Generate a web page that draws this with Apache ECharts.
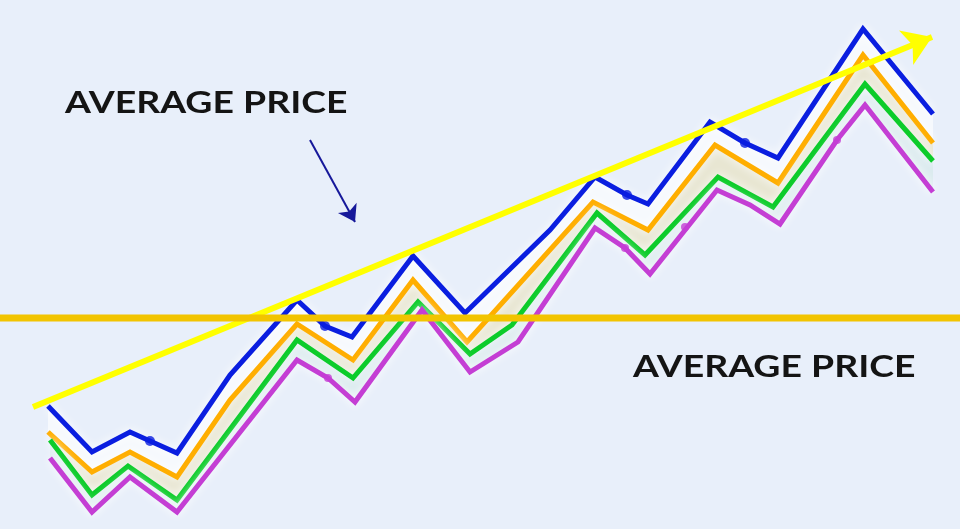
<!DOCTYPE html>
<html><head><meta charset="utf-8">
<script src="https://cdn.jsdelivr.net/npm/echarts@6/dist/echarts.min.js"></script>
<style>html,body{margin:0;padding:0;background:#e8effa}#c{width:960px;height:529px}</style>
</head><body><div id="c"></div>
<script>
// x positions (time) and price values
const blueX = [48,92,130,150,177,230,297,325,352,413,465,550,595,627,648,710,745,778,863,933];
const blueY = [123,77,97,88,76,154,229,203,192,273,216,299,352,334,325,407,386,371,500,415];
const orangeX = [48,92,130,177,230,297,353,413,467,593,648,715,778,863,933];
const orangeY = [97,57,77,52,129,205,169,249,187,327,299,384,346,474,386];
const greenX = [50,92,128,177,297,353,418,470,512,597,645,718,773,865,933];
const greenY = [89,34,63,29,189,151,227,175,204,316,274,352,322,445,368];
const magentaX = [50,92,130,177,297,328,355,422,470,518,595,625,650,717,750,780,837,865,933];
const magentaY = [71,17,52,17,169,151,127,219,157,187,301,281,255,339,324,305,389,424,337];
const blueMarkX = [150,325,627,745];
const blueMarkY = [88,203,334,386];
const magentaMarkX = [328,625,685,837];
const magentaMarkY = [151,281,302,389];
const trendStart = [33,122], trendEnd = [932,492];
const averageLevel = 211;
const pointerStart = [310,389], pointerEnd = [355,307];
const labelText = 'AVERAGE PRICE';

const zip = (xs, ys) => xs.map((x, i) => [x, ys[i]]);
const blue = zip(blueX, blueY), orange = zip(orangeX, orangeY), green = zip(greenX, greenY), magenta = zip(magentaX, magentaY);

function band(top, bottom, fill) {
  return {
    type: 'custom', coordinateSystem: 'cartesian2d', silent: true, z: 1,
    data: [[0, 0]],
    renderItem: (params, api) => {
      const pts = top.map(p => api.coord(p)).concat(bottom.slice().reverse().map(p => api.coord(p)));
      return { type: 'polygon', shape: { points: pts }, style: { fill: fill } };
    }
  };
}
function line(data, color) {
  return {
    type: 'line', data: data, showSymbol: false, z: 3, silent: true,
    lineStyle: { color: color, width: 5, shadowColor: 'rgba(255,255,255,1)', shadowBlur: 10, join: 'miter' }
  };
}

const chart = echarts.init(document.getElementById('c'));
chart.setOption({
  backgroundColor: '#e8effa',
  animation: false,
  grid: { left: 0, right: 0, top: 0, bottom: 0 },
  xAxis: { type: 'value', min: 0, max: 960, show: false },
  yAxis: { type: 'value', min: 0, max: 529, show: false },
  series: [
    band(blue, orange, 'rgba(255,255,255,0.6)'),
    band(orange, green, 'rgba(232,222,170,0.5)'),
    band(green, magenta, 'rgba(205,232,228,0.5)'),
    line(blue, '#0a1ee0'),
    line(orange, '#ffae00'),
    line(green, '#0ccc2a'),
    line(magenta, '#c43ed4'),
    { type: 'scatter', z: 4, silent: true, symbolSize: 10, itemStyle: { color: '#0a1ee0' }, data: zip(blueMarkX, blueMarkY) },
    { type: 'scatter', z: 4, silent: true, symbolSize: 8, itemStyle: { color: '#c43ed4' }, data: zip(magentaMarkX, magentaMarkY) },
    {
      type: 'lines', coordinateSystem: 'cartesian2d', z: 5, silent: true,
      symbol: ['none', 'arrow'], symbolSize: [28, 28],
      lineStyle: { color: '#ffff00', width: 6, opacity: 1 },
      data: [{ coords: [trendStart, trendEnd] }]
    },
    {
      type: 'lines', coordinateSystem: 'cartesian2d', z: 5, silent: true,
      symbol: ['none', 'arrow'], symbolSize: [12, 16],
      lineStyle: { color: '#16189a', width: 2, opacity: 1 },
      data: [{ coords: [pointerStart, pointerEnd] }]
    },
    {
      type: 'line', z: 6, silent: true, showSymbol: false,
      lineStyle: { color: '#f2c400', width: 7 },
      data: [[0, averageLevel], [960, averageLevel]]
    }
  ],
  graphic: [
    { type: 'text', x: 65, y: 103, scaleX: 1.245, style: { text: labelText, font: 'bold 30px Lato', fill: '#141414', verticalAlign: 'middle' } },
    { type: 'text', x: 633, y: 367, scaleX: 1.245, style: { text: labelText, font: 'bold 30px Lato', fill: '#141414', verticalAlign: 'middle' } }
  ]
});
</script></body></html>
